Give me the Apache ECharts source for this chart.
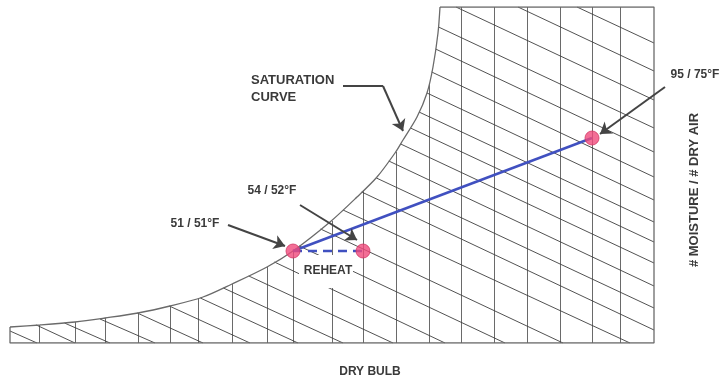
<!DOCTYPE html>
<html>
<head>
<meta charset="utf-8">
<script src="https://cdn.jsdelivr.net/npm/echarts@6/dist/echarts.min.js"></script>
<style>
html,body{margin:0;padding:0;background:#fff;}
#chart{width:721px;height:380px;}
</style>
</head>
<body>
<div id="chart"></div>
<script>
// Schematic psychrometric chart (dry bulb → right, moisture ↑)
const saturationCurve = [[0,16],[30,18],[65,21],[95,25],[128,30],[160,37],[193,46],[222,59],[257,76],[283,92],[320,121],[347,146],[367,166],[385,190],[393,203],[407,226],[417,250],[423,276],[428,310],[430,336]];
const chartFrame = [[430,336],[644,336],[644,0],[0,0],[0,16]];

const dryBulbX   = [29,65,95,128,160,188,222,257,283,322,353,386,419,451,484,517,550,582,610];
const dryBulbTop = [18,21,25,30,37,45,59,76,92,122,153,191,259,336,336,336,336,336,336];

const wetBulbStart = [[567,336],[508,336],[446,336],[428.5,316],[425.6,294],[421.7,271],[417,250],[409,231],[400.5,215],[390.7,199],[378.8,182],[366.4,165],[351.7,151],[333,133],[310.6,114],[289.3,97],[264.4,81],[238.8,67],[213.4,55],[190.3,45],[159.3,37],[127.3,30],[90,24],[54.5,20],[26.3,18],[0,12]];
const wetBulbEnd   = [[644,300],[644,272],[644,243],[644,215],[644,191],[644,166],[644,143],[644,121],[644,101],[644,80],[644,57],[644,35],[644,13],[620,0],[553,0],[495,0],[435,0],[383,0],[333,0],[288,0],[240,0],[193,0],[145,0],[100,0],[65,0],[27,0]];

const stateNames  = ['51 / 51°F','54 / 52°F','95 / 75°F'];
const statePoints = [[283,92],[353,92],[582,205]];

// annotation arrows: [from, to]
const arrowPaths = [
  [[218,118],[275,97]],
  [[290,138],[347,103]],
  [[655,256],[590,209]],
  [[373,257],[393,212]]
];
const saturationLeaderStart = [[333,257],[373,257]];

const textColor = '#3a3a3a';
const font = '"Liberation Sans", Arial, sans-serif';

const chart = echarts.init(document.getElementById('chart'), null, {renderer:'canvas'});

chart.setOption({
  animation:false,
  backgroundColor:'#fff',
  grid:{left:10,right:67,top:7,bottom:37},
  xAxis:{type:'value',min:0,max:644,show:false},
  yAxis:{type:'value',min:0,max:336,show:false},
  series:[
    {
      type:'lines', coordinateSystem:'cartesian2d', silent:true, z:1,
      lineStyle:{color:'#5a5a5a',width:1,opacity:0.9},
      data: dryBulbX.map((x,i)=>({coords:[[x,0],[x,dryBulbTop[i]]]}))
    },
    {
      type:'lines', coordinateSystem:'cartesian2d', silent:true, z:1,
      lineStyle:{color:'#3f3f3f',width:1,opacity:0.9},
      data: wetBulbStart.map((s,i)=>({coords:[s,wetBulbEnd[i]]}))
    },
    {
      type:'line', data:saturationCurve, showSymbol:false, z:2, silent:true, smooth:0.3,
      lineStyle:{color:'#6a6a6a',width:1.3}
    },
    {
      type:'line', data:chartFrame, showSymbol:false, z:2, silent:true,
      lineStyle:{color:'#6a6a6a',width:1.3}
    },
    {
      type:'line', data:[statePoints[0],statePoints[2]], showSymbol:false, z:5,
      lineStyle:{color:'#4050c0',width:2.5}
    },
    {
      type:'line', data:[statePoints[0],statePoints[1]], showSymbol:false, z:5,
      lineStyle:{color:'#4050c0',width:2.5,type:[9,6]}
    },
    {
      type:'scatter', data:statePoints, symbolSize:14, z:6,
      itemStyle:{color:'#f04a7c',borderColor:'#d23a66',borderWidth:1}
    },
    {
      type:'lines', coordinateSystem:'cartesian2d', clip:false, z:7, silent:true,
      symbol:['none','arrow'], symbolSize:[8,11],
      lineStyle:{color:'#444',width:2,opacity:1},
      data: arrowPaths.map(p=>({coords:p}))
    },
    {
      type:'lines', coordinateSystem:'cartesian2d', clip:false, z:7, silent:true,
      lineStyle:{color:'#444',width:1.8,opacity:1},
      data:[{coords:saturationLeaderStart}]
    }
  ],
  graphic:[
    {type:'rect', z:50, shape:{x:299,y:255,width:54,height:33}, style:{fill:'#fff'}},
    {type:'text', z:51, x:328, y:271, style:{text:'REHEAT', font:'bold 12px '+font, fill:textColor, textAlign:'center', textVerticalAlign:'middle'}},
    {type:'text', z:51, x:251, y:72, style:{text:'SATURATION\nCURVE', font:'bold 13px '+font, lineHeight:17, fill:textColor, textAlign:'left', textVerticalAlign:'top'}},
    {type:'text', z:51, x:195, y:224, style:{text:stateNames[0], font:'bold 12px '+font, fill:textColor, textAlign:'center', textVerticalAlign:'middle'}},
    {type:'text', z:51, x:272, y:191, style:{text:stateNames[1], font:'bold 12px '+font, fill:textColor, textAlign:'center', textVerticalAlign:'middle'}},
    {type:'text', z:51, x:695, y:75, style:{text:stateNames[2], font:'bold 12px '+font, fill:textColor, textAlign:'center', textVerticalAlign:'middle'}},
    {type:'text', z:51, x:370, y:372, style:{text:'DRY BULB', font:'bold 12px '+font, fill:textColor, textAlign:'center', textVerticalAlign:'middle'}},
    {type:'text', z:51, x:694, y:190, rotation:Math.PI/2, style:{text:'# MOISTURE / # DRY AIR', font:'bold 13px '+font, fill:textColor, textAlign:'center', textVerticalAlign:'middle'}}
  ]
});
</script>
</body>
</html>
